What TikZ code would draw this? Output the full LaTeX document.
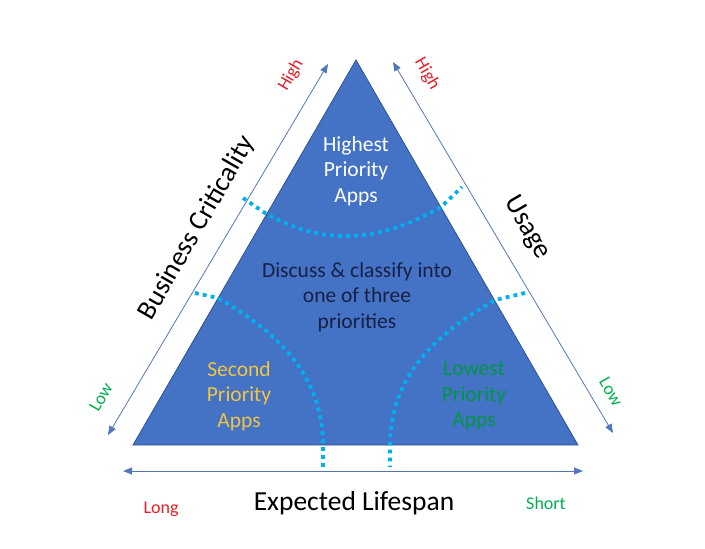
\documentclass[tikz,border=0pt]{standalone}
\usepackage{fontspec}
\setmainfont{Carlito}
\usetikzlibrary{arrows.meta}
\definecolor{triblue}{RGB}{68,114,196}
\definecolor{triedge}{RGB}{47,82,143}
\definecolor{axisblue}{RGB}{84,118,186}
\definecolor{dotcyan}{RGB}{0,176,240}
\definecolor{navytext}{RGB}{24,32,70}
\definecolor{golden}{RGB}{240,196,70}
\definecolor{lowgreen}{RGB}{0,176,80}
\definecolor{highred}{RGB}{228,30,40}

\begin{document}
\begin{tikzpicture}[x=1pt, y=-1pt,
  every node/.style={font=\fontsize{21.5}{25.5}\selectfont, align=center, inner sep=0pt},
  axis/.style={{Triangle[length=9pt,width=7pt]}-{Triangle[length=9pt,width=7pt]}, draw=axisblue, line width=0.8pt},
  divider/.style={dotcyan, line width=3.8pt, dash pattern=on 3.8pt off 4.2pt},
  axislbl/.style={font=\fontsize{27.5}{30}\selectfont},
  endlbl/.style={font=\fontsize{18}{20}\selectfont}
]
\useasboundingbox (0,0) rectangle (705,549);

% Triangle
\coordinate (apex) at (356,60);
\coordinate (bl) at (133,445);
\coordinate (br) at (578,445);
\fill[triblue, draw=triedge, line width=0.8pt] (apex) -- (br) -- (bl) -- cycle;

% Axes
\coordinate (bcLow) at (108,435);
\coordinate (bcHigh) at (328,64);
\coordinate (usHigh) at (393,62);
\coordinate (usLow) at (613,433);
\coordinate (lsLong) at (123,471);
\coordinate (lsShort) at (583,471);
\draw[axis] (bcLow) -- (bcHigh);
\draw[axis] (usHigh) -- (usLow);
\draw[axis] (lsLong) -- (lsShort);

% Dividers
\coordinate (topL0) at (243,198);
\coordinate (topL) at (265,213);
\coordinate (topR) at (441,207);
\coordinate (topR0) at (462,187);
\coordinate (lftL0) at (195,293);
\coordinate (lftL) at (218,298);
\coordinate (lftB) at (323,447);
\coordinate (lftB0) at (323,469);
\coordinate (rgtR0) at (525,293);
\coordinate (rgtR) at (495,300);
\coordinate (rgtB) at (390,447);
\coordinate (rgtB0) at (390,467);
\draw[divider] (topL0) -- (topL) to[out=-30, in=210] (topR) -- (topR0);
\draw[divider] (lftL0) -- (lftL) to[out=-30, in=90] (lftB) -- (lftB0);
\draw[divider] (rgtR0) -- (rgtR) to[out=210, in=90] (rgtB) -- (rgtB0);

% Regions
\node[text=white] (highest) at (356,171) {Highest\\Priority\\Apps};
\node[text=navytext] (discuss) at (357,297) {Discuss \& classify into\\one of three\\priorities};
\node[text=golden] (second) at (239,396) {Second\\Priority\\Apps};
\node[text=lowgreen!85!black] (lowest) at (474,396) {Lowest\\Priority\\Apps};

% Axis labels
\node[axislbl, rotate=60] (bcLbl) at (197,228) {Business Criticality};
\node[axislbl, rotate=-60] (usLbl) at (527,228) {Usage};
\node[axislbl] (lsLbl) at (354,503) {Expected Lifespan};
\node[endlbl, rotate=60, text=highred] (bcHi) at (291,75) {High};
\node[endlbl, rotate=60, text=lowgreen] (bcLo) at (101,397) {Low};
\node[endlbl, rotate=-60, text=highred] (usHi) at (427,74) {High};
\node[endlbl, rotate=-60, text=lowgreen] (usLo) at (611,392) {Low};
\node[endlbl, text=highred] (lsLo) at (161,509) {Long};
\node[endlbl, text=lowgreen] (lsSh) at (546,503) {Short};
\end{tikzpicture}
\end{document}
